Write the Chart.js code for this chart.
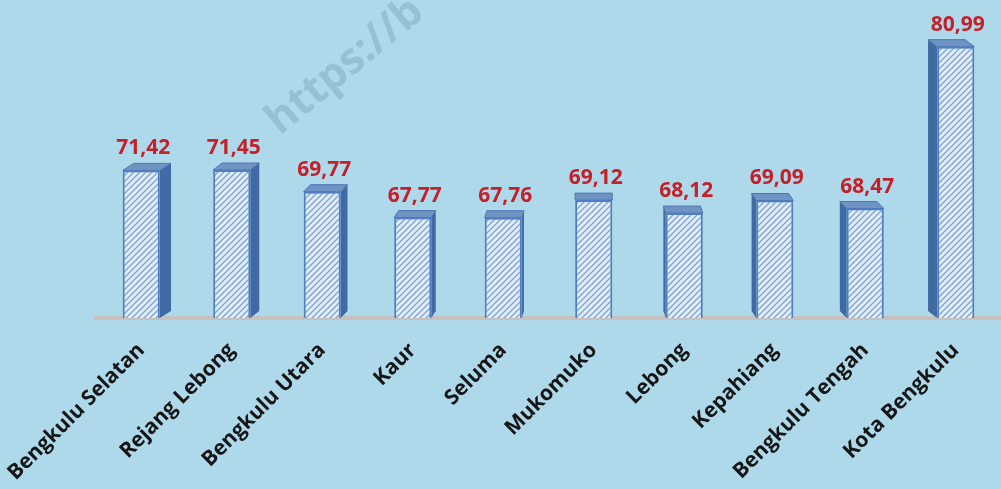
<!DOCTYPE html>
<html>
<head>
<meta charset="utf-8">
<script src="https://cdn.jsdelivr.net/npm/chart.js@4.4.1/dist/chart.umd.min.js"></script>
<style>
  body { margin: 0; background: #aed9ea; }
  #chart { display: block; }
</style>
</head>
<body>
<canvas id="chart" width="1001" height="489"></canvas>
<script>
// IPM per kabupaten/kota
const categories = ['Bengkulu Selatan', 'Rejang Lebong', 'Bengkulu Utara', 'Kaur', 'Seluma',
    'Mukomuko', 'Lebong', 'Kepahiang', 'Bengkulu Tengah', 'Kota Bengkulu'];
const ipmValues = [71.42, 71.45, 69.77, 67.77, 67.76, 69.12, 68.12, 69.09, 68.47, 80.99];
const yMin = 60;
const yMax = 84.6;

const bgColor = '#aed9ea';
const labelRed = '#c4202a';

function formatValue(v) {
    return v.toFixed(2).replace('.', ',');
}

const canvas = document.getElementById('chart');
const ctx = canvas.getContext('2d');

// Hatch fill for the front of each bar
function makeHatch() {
    const c = document.createElement('canvas');
    c.width = 6;
    c.height = 6;
    const g = c.getContext('2d');
    g.fillStyle = '#e2edf8';
    g.fillRect(0, 0, 6, 6);
    g.strokeStyle = '#7ba3d6';
    g.lineWidth = 1.3;
    g.beginPath();
    g.moveTo(0, 6); g.lineTo(6, 0);
    g.moveTo(-1, 1); g.lineTo(1, -1);
    g.moveTo(5, 7); g.lineTo(7, 5);
    g.stroke();
    return ctx.createPattern(c, 'repeat');
}

// Side and top faces for the 3D look, plus value labels
const bar3d = {
    id: 'bar3d',
    beforeDraw(chart) {
        const c = chart.ctx;
        c.save();
        c.fillStyle = bgColor;
        c.fillRect(0, 0, chart.width, chart.height);
        c.restore();
    },
    beforeDatasetsDraw(chart) {
        const c = chart.ctx;
        const meta = chart.getDatasetMeta(0);
        const floor = chart.chartArea.bottom;
        meta.data.forEach(bar => {
            const half = bar.width / 2;
            const l = bar.x - half, r = bar.x + half;
            const top = bar.y, base = Math.min(bar.base, floor);
            const dx = (590 - bar.x) * 0.025;
            const dy = -7;
            const sx = dx > 0 ? r : l;
            c.save();
            c.fillStyle = '#3f6aa3';
            c.beginPath();
            c.moveTo(sx, top);
            c.lineTo(sx + dx, top + dy);
            c.lineTo(sx + dx, base + dy);
            c.lineTo(sx, base);
            c.closePath();
            c.fill();
            c.fillStyle = '#6f94c4';
            c.strokeStyle = '#4a78b5';
            c.lineWidth = 1;
            c.beginPath();
            c.moveTo(l, top);
            c.lineTo(l + dx, top + dy);
            c.lineTo(r + dx, top + dy);
            c.lineTo(r, top);
            c.closePath();
            c.fill();
            c.stroke();
            c.restore();
        });
    },
    afterDatasetsDraw(chart) {
        const c = chart.ctx;
        const meta = chart.getDatasetMeta(0);
        c.save();
        c.font = '700 21px "Open Sans"';
        c.fillStyle = labelRed;
        c.textAlign = 'center';
        c.textBaseline = 'alphabetic';
        meta.data.forEach((bar, i) => {
            c.fillText(formatValue(ipmValues[i]), bar.x + 2, bar.y - 16);
        });
        c.restore();
    },
    afterDraw(chart) {
        // faint watermark
        const c = chart.ctx;
        c.save();
        c.translate(280, 136);
        c.rotate(-0.69);
        c.font = '700 43px "Open Sans"';
        c.fillStyle = 'rgba(95, 140, 165, 0.3)';
        c.fillText('https://b', 0, 0);
        c.restore();
    }
};

new Chart(ctx, {
    type: 'bar',
    data: {
        labels: categories,
        datasets: [{
            data: ipmValues,
            backgroundColor: makeHatch(),
            borderColor: '#4d7fc2',
            borderWidth: 2,
            borderSkipped: false,
            barPercentage: 1,
            categoryPercentage: 0.41
        }]
    },
    options: {
        responsive: false,
        animation: false,
        layout: { padding: { left: 96, right: 0, top: 0, bottom: 0 } },
        plugins: {
            legend: { display: false },
            tooltip: { enabled: false }
        },
        scales: {
            y: {
                display: false,
                min: yMin,
                max: yMax
            },
            x: {
                grid: { display: false, drawTicks: false },
                border: { display: true, color: '#c9c1bd', width: 4 },
                ticks: {
                    minRotation: 45,
                    maxRotation: 45,
                    autoSkip: false,
                    padding: 20,
                    color: '#151515',
                    font: { family: 'Open Sans', size: 21, weight: '700' }
                },
                afterFit(scale) {
                    scale.height = 171;
                    scale.paddingLeft = 0;
                    scale.paddingRight = 0;
                }
            }
        }
    },
    plugins: [bar3d]
});
</script>
</body>
</html>
